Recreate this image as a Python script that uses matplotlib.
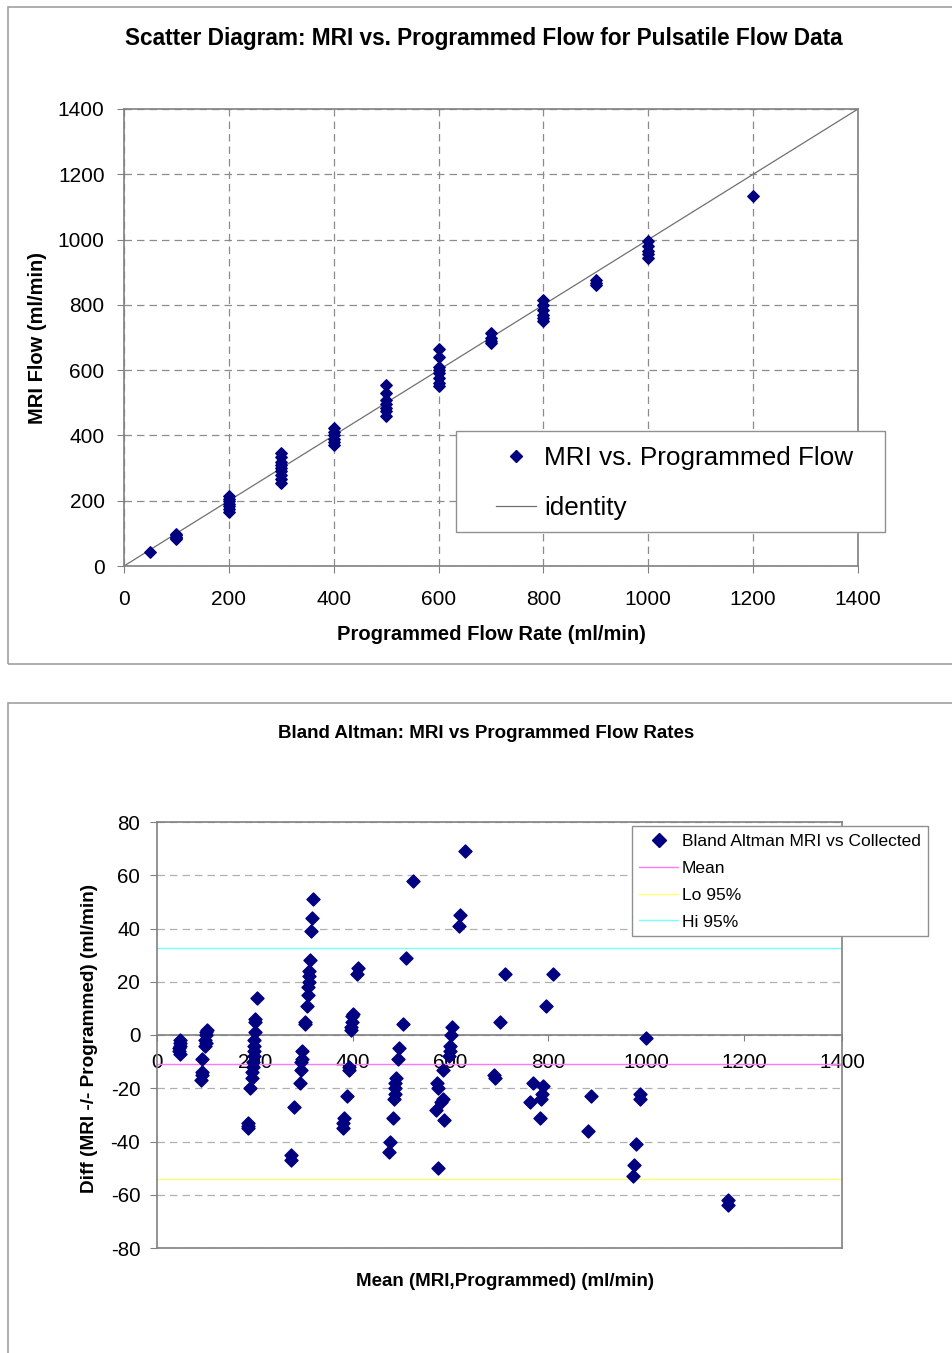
import matplotlib
matplotlib.use("Agg")
import matplotlib.pyplot as plt
from matplotlib.patches import Rectangle
from matplotlib.lines import Line2D

plt.rcParams['font.family'] = ['Liberation Sans', 'DejaVu Sans']
plt.rcParams['axes.unicode_minus'] = False

# top chart: MRI flow vs programmed flow (ml/min)
programmed = [50,
              100, 100, 100, 100, 100,
              200, 200, 200, 200, 200, 200, 200,
              300, 300, 300, 300, 300, 300, 300, 300, 300,
              400, 400, 400, 400, 400, 400,
              500, 500, 500, 500, 500, 500, 500,
              600, 600, 600, 600, 600, 600, 600, 600,
              700, 700, 700, 700,
              800, 800, 800, 800, 800, 800,
              900, 900, 900,
              1000, 1000, 1000, 1000, 1000,
              1200]
mri_flow = [43,
            82, 86, 90, 94, 97,
            165, 175, 183, 190, 198, 205, 215,
            255, 265, 280, 290, 300, 310, 320, 335, 345,
            370, 380, 390, 400, 410, 422,
            460, 475, 485, 495, 510, 530, 553,
            550, 560, 575, 590, 600, 610, 640, 665,
            683, 690, 700, 715,
            752, 760, 770, 785, 800, 815,
            862, 868, 875,
            945, 955, 965, 980, 995,
            1135]

# bottom chart: Bland Altman
ba_mean = [47, 46, 48, 44, 45, 46,
           102, 100, 101, 99, 100, 99, 92, 91, 92, 90,
           205, 200, 201, 200, 198, 199, 198, 198, 197, 196, 195, 194, 190, 185, 186, 185,
           318, 316, 314, 312, 311, 310, 310, 309, 308, 306, 303, 302, 297, 296, 295, 295, 293, 279, 273, 273,
           410, 409, 400, 399, 398, 397, 396, 393, 392, 388, 383, 381, 380,
           523, 509, 502, 494, 492, 488, 487, 486, 486, 485, 482, 476, 474,
           629, 619, 617, 602, 600, 599, 598, 597, 585, 573, 574, 585, 580, 570, 586, 575,
           711, 702, 689, 690,
           809, 795, 768, 789, 787, 785, 763, 782,
           887, 880,
           999, 988, 987, 979, 975, 973,
           1167, 1167]
ba_diff = [-2, -3, -4, -5, -6, -7,
           2, 1, 0, -2, -3, -4, -9, -14, -15, -17,
           14, 6, 5, 1, -2, -4, -6, -8, -10, -12, -14, -16, -20, -33, -34, -35,
           51, 44, 39, 28, 24, 22, 20, 18, 15, 11, 5, 4, -6, -9, -10, -13, -18, -27, -45, -47,
           25, 23, 8, 7, 5, 3, 2, -12, -13, -23, -31, -33, -35,
           58, 29, 4, -5, -9, -16, -18, -20, -22, -24, -31, -40, -44,
           69, 45, 41, 3, 0, -4, -6, -8, -13, -18, -20, -24, -25, -28, -32, -50,
           23, 5, -15, -16,
           23, 11, -18, -19, -22, -24, -25, -31,
           -23, -36,
           -1, -22, -24, -41, -49, -53,
           -62, -64]
mean_diff = -10.9
lo_95 = -54.1
hi_95 = 32.7

top_ticks = [0, 200, 400, 600, 800, 1000, 1200, 1400]
ba_xticks = [0, 200, 400, 600, 800, 1000, 1200, 1400]
ba_yticks = [-80, -60, -40, -20, 0, 20, 40, 60, 80]

W, H = 952, 1353
navy = '#000080'
frame_gray = '#808080'
grid_gray = '#8c8c8c'


def fx(px):
    return px / W


def fy(py):
    return 1 - py / H


fig = plt.figure(figsize=(W / 100, H / 100), dpi=100)

# panel borders
fig.add_artist(Rectangle((fx(8), fy(664)), 1.0, fy(7) - fy(664), transform=fig.transFigure,
                         fill=False, edgecolor='#a0a0a0', linewidth=1.2))
fig.add_artist(Rectangle((fx(8), -0.01), 1.0, fy(703) + 0.01, transform=fig.transFigure,
                         fill=False, edgecolor='#a0a0a0', linewidth=1.2))

# ---------- top: scatter diagram ----------
ax1 = fig.add_axes([fx(124), fy(566), fx(858) - fx(124), fy(109) - fy(566)])
ax1.scatter(programmed, mri_flow, marker='D', s=34, color=navy, zorder=3)
ax1.axline((0, 0), slope=1, color='#707070', linewidth=0.9, zorder=2)
ax1.set_xlim(0, 1400)
ax1.set_ylim(0, 1400)
ax1.set_xticks(top_ticks)
ax1.set_yticks(top_ticks)
ax1.tick_params(axis='x', labelsize=15, length=5, color=frame_gray, pad=12)
ax1.tick_params(axis='y', labelsize=15, length=5, color=frame_gray, pad=9)
ax1.grid(True, linestyle=(0, (6, 4)), color=grid_gray, linewidth=0.9)
for sp in ax1.spines.values():
    sp.set_color(frame_gray)
    sp.set_linewidth(1.2)

fig.text(fx(484), fy(39), 'Scatter Diagram: MRI vs. Programmed Flow for Pulsatile Flow Data',
         ha='center', va='center', fontsize=16.3, fontweight='bold')
fig.text(fx(491), fy(635), 'Programmed Flow Rate (ml/min)', ha='center', va='center',
         fontsize=14.5, fontweight='bold')
fig.text(fx(38), fy(338), 'MRI Flow (ml/min)', ha='center', va='center', rotation=90,
         fontsize=14.5, fontweight='bold')

ax1.add_patch(Rectangle((fx(456), fy(532)), fx(885) - fx(456), fy(431) - fy(532),
                        transform=fig.transFigure, facecolor='white', edgecolor='#909090',
                        linewidth=1.0, zorder=5, clip_on=False))
h1 = [Line2D([], [], linestyle='none', marker='D', markersize=6, color=navy),
      Line2D([], [], color='#707070', linewidth=0.9)]
leg1 = ax1.legend(h1, ['MRI vs. Programmed Flow', 'identity'], loc='upper left',
                  bbox_to_anchor=(fx(496), fy(446)), bbox_transform=fig.transFigure,
                  frameon=False, fontsize=18.8, borderpad=0, borderaxespad=0,
                  handlelength=1.53, handletextpad=0.3, labelspacing=1.0)
leg1.set_zorder(6)

# ---------- bottom: Bland Altman ----------
ax2 = fig.add_axes([fx(157), fy(1248), fx(842) - fx(157), fy(822) - fy(1248)])
ax2.axhline(mean_diff, color='#ff77ff', linewidth=1.0, zorder=2)
ax2.axhline(lo_95, color='#ffff77', linewidth=1.0, zorder=2)
ax2.axhline(hi_95, color='#77ffff', linewidth=1.0, zorder=2)
ax2.scatter(ba_mean, ba_diff, marker='D', s=44, color=navy, zorder=3)
ax2.set_xlim(0, 1400)
ax2.set_ylim(-80, 80)
ax2.set_xticks(ba_xticks)
ax2.set_yticks(ba_yticks)
ax2.tick_params(axis='x', labelsize=14.8, length=4, color=frame_gray, pad=9)
ax2.tick_params(axis='y', labelsize=14.8, length=5, color=frame_gray, pad=7)
ax2.yaxis.grid(True, linestyle=(0, (6, 4)), color='#b0b0b0', linewidth=0.9)
ax2.xaxis.grid(False)
for sp in ax2.spines.values():
    sp.set_color(frame_gray)
    sp.set_linewidth(1.2)
ax2.spines['bottom'].set_position(('data', 0))
ax2.axhline(-80, color=frame_gray, linewidth=1.2, clip_on=False, zorder=4)

fig.text(fx(486), fy(733), 'Bland Altman: MRI vs Programmed Flow Rates', ha='center', va='center',
         fontsize=13.5, fontweight='bold')
fig.text(fx(505), fy(1281), 'Mean (MRI,Programmed) (ml/min)', ha='center', va='center',
         fontsize=13.5, fontweight='bold')
fig.text(fx(90), fy(1038), 'Diff (MRI -/- Programmed) (ml/min)', ha='center', va='center',
         rotation=90, fontsize=13.7, fontweight='bold')

ax2.add_patch(Rectangle((fx(632), fy(936)), fx(928) - fx(632), fy(826) - fy(936),
                        transform=fig.transFigure, facecolor='white', edgecolor='#909090',
                        linewidth=1.0, zorder=5, clip_on=False))
h2 = [Line2D([], [], linestyle='none', marker='D', markersize=7, color=navy),
      Line2D([], [], color='#ff77ff', linewidth=1.0),
      Line2D([], [], color='#ffff77', linewidth=1.0),
      Line2D([], [], color='#77ffff', linewidth=1.0)]
leg2 = ax2.legend(h2, ['Bland Altman MRI vs Collected', 'Mean', 'Lo 95%', 'Hi 95%'],
                  loc='upper left', bbox_to_anchor=(fx(639), fy(834)),
                  bbox_transform=fig.transFigure, frameon=False, fontsize=12.5,
                  borderpad=0, borderaxespad=0, handlelength=2.25, handletextpad=0.23,
                  labelspacing=0.67)
leg2.set_zorder(6)

fig.savefig('out.png', dpi=100)
